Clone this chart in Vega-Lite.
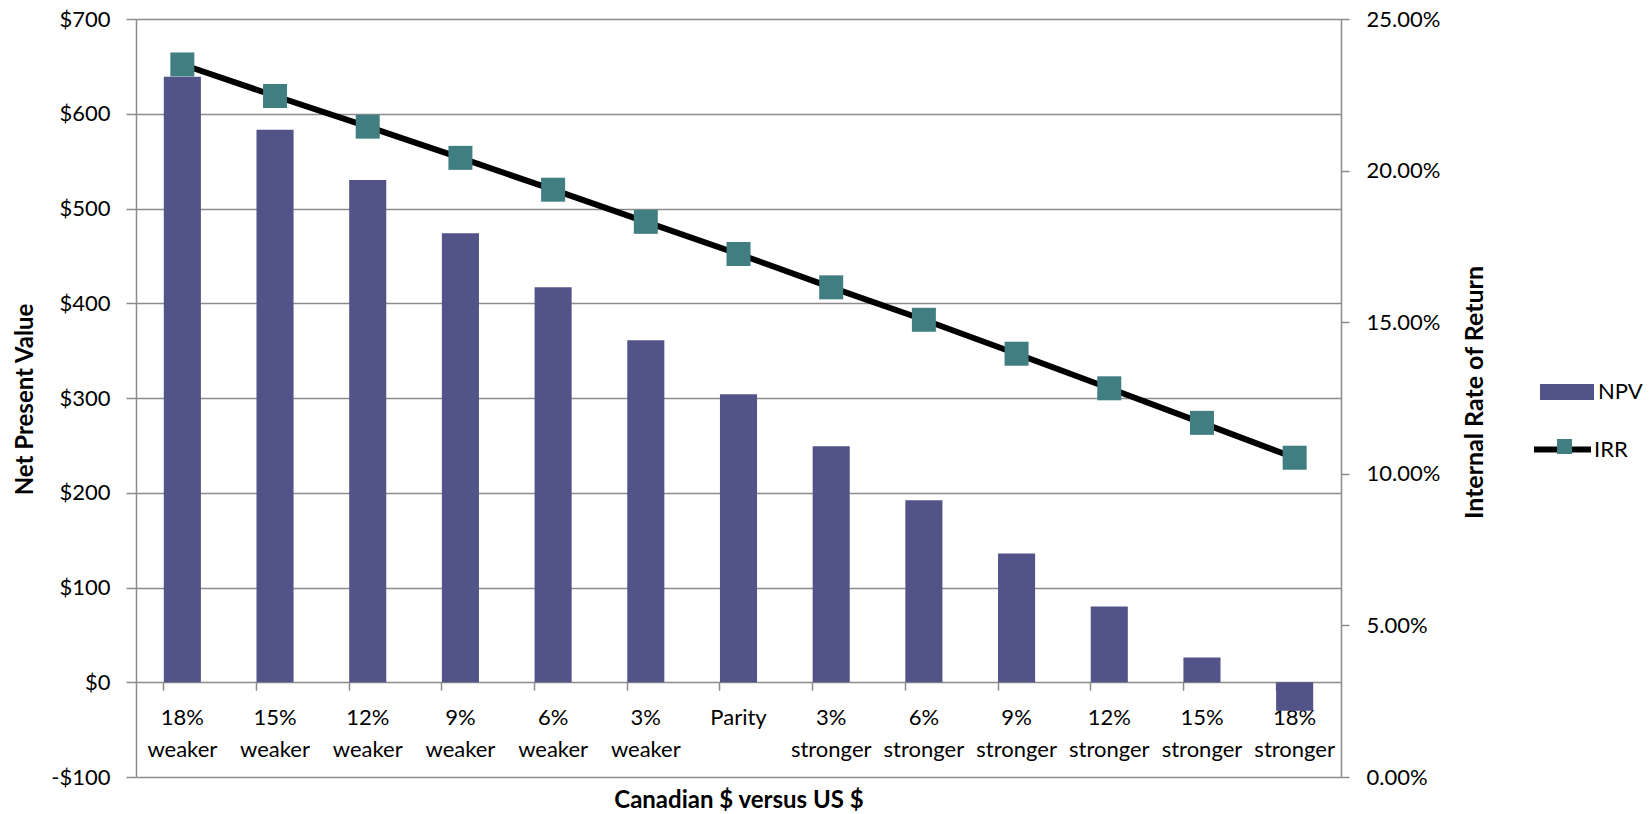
{
  "$schema": "https://vega.github.io/schema/vega-lite/v6.json",
  "width": 1205,
  "height": 758,
  "autosize": {"type": "none"},
  "padding": {"left": 136, "top": 19, "right": 311, "bottom": 37},
  "background": "white",
  "config": {
    "view": {"stroke": null},
    "font": "Lato",
    "axis": {"labelFont": "Lato", "titleFont": "Lato", "labelColor": "black", "titleColor": "black"},
    "legend": {"labelFont": "Lato", "labelFontSize": 22, "labelColor": "black", "padding": 0}
  },
  "data": {
    "values": [
      {"cat": "18% weaker", "npv": 639, "irr": 23.5},
      {"cat": "15% weaker", "npv": 583, "irr": 22.46},
      {"cat": "12% weaker", "npv": 530, "irr": 21.45},
      {"cat": "9% weaker", "npv": 474, "irr": 20.42},
      {"cat": "6% weaker", "npv": 417, "irr": 19.37},
      {"cat": "3% weaker", "npv": 361, "irr": 18.31},
      {"cat": "Parity", "npv": 304, "irr": 17.25},
      {"cat": "3% stronger", "npv": 249, "irr": 16.15},
      {"cat": "6% stronger", "npv": 192, "irr": 15.08},
      {"cat": "9% stronger", "npv": 136, "irr": 13.96},
      {"cat": "12% stronger", "npv": 80, "irr": 12.82},
      {"cat": "15% stronger", "npv": 26, "irr": 11.68},
      {"cat": "18% stronger", "npv": -30, "irr": 10.53}
    ]
  },
  "layer": [
    {
      "mark": {"type": "bar", "color": "#525388"},
      "encoding": {
        "x": {
          "field": "cat", "type": "nominal", "sort": null,
          "scale": {"paddingInner": 0.6, "paddingOuter": 0.3},
          "axis": {
            "orient": "bottom", "offset": -94.75, "bandPosition": 0,
            "labels": false, "domain": false, "grid": false,
            "ticks": true, "tickSize": 8, "tickColor": "#8c8c8c", "tickWidth": 1.5,
            "title": null
          }
        },
        "y": {
          "field": "npv", "type": "quantitative",
          "scale": {"domain": [-100, 700], "nice": false, "zero": false},
          "axis": {
            "orient": "left",
            "values": [-100, 0, 100, 200, 300, 400, 500, 600, 700],
            "labelExpr": "datum.value < 0 ? '-$' + abs(datum.value) : '$' + datum.value",
            "grid": true, "gridColor": "#8c8c8c", "gridWidth": 1.5,
            "domain": true, "domainColor": "#8c8c8c", "domainWidth": 1.5,
            "ticks": true, "tickColor": "#8c8c8c", "tickSize": 10, "tickWidth": 1.5,
            "labelFontSize": 22, "labelPadding": 16,
            "title": "Net Present Value", "titleFontSize": 24, "titleFontWeight": "bold",
            "titleAngle": -90, "titleX": -111, "titleY": 380,
            "titleAlign": "center", "titleBaseline": "middle"
          }
        },
        "color": {
          "datum": "NPV",
          "scale": {"domain": ["NPV"], "range": ["#525388"]},
          "legend": {
            "orient": "none", "legendX": 1404, "legendY": 346, "title": null,
            "symbolType": "M-1,-0.296H1V0.296H-1Z", "symbolSize": 2916,
            "symbolStrokeWidth": 0, "labelOffset": 4
          }
        }
      }
    },
    {
      "encoding": {
        "x": {
          "field": "cat", "type": "nominal", "sort": null,
          "axis": {
            "orient": "bottom", "offset": -94.75,
            "ticks": false, "tickSize": 0, "domain": false, "grid": false,
            "labelAngle": 0, "labelOverlap": false, "labelBound": false,
            "labelExpr": "datum.value == 'Parity' ? 'Parity' : split(datum.value, ' ')",
            "labelFontSize": 22, "labelLineHeight": 32, "labelPadding": 25,
            "labelBaseline": "top",
            "title": "Canadian $ versus US $", "titleFontSize": 24, "titleFontWeight": "bold",
            "titleY": 125.5, "titleBaseline": "alphabetic"
          }
        },
        "y": {
          "field": "irr", "type": "quantitative",
          "scale": {"domain": [0, 25], "nice": false, "zero": false}
        }
      },
      "layer": [
        {
          "mark": {"type": "line", "color": "black", "strokeWidth": 6},
          "encoding": {
            "y": {
              "field": "irr", "type": "quantitative",
              "axis": {
                "orient": "right",
                "values": [0, 5, 10, 15, 20, 25],
                "labelExpr": "format(datum.value, '.2f') + '%'",
                "grid": false,
                "domain": true, "domainColor": "#8c8c8c", "domainWidth": 1.5,
                "ticks": true, "tickColor": "#8c8c8c", "tickSize": 8, "tickWidth": 1.5,
                "labelFontSize": 22, "labelPadding": 17,
                "title": "Internal Rate of Return", "titleFontSize": 25, "titleFontWeight": "bold",
                "titleAngle": -90, "titleX": 133, "titleY": 373,
                "titleAlign": "center", "titleBaseline": "middle"
              }
            },
            "stroke": {
              "datum": "IRR",
              "scale": {"domain": ["IRR"], "range": ["black"]},
              "legend": {
                "orient": "none", "legendX": 1395, "legendY": 399, "title": null,
                "symbolType": "stroke", "symbolSize": 3249, "symbolStrokeWidth": 6,
                "labelOffset": 0
              }
            }
          }
        },
        {
          "mark": {"type": "point", "shape": "square", "filled": true, "size": 576, "color": "#417E82", "opacity": 1},
          "encoding": {
            "shape": {
              "datum": "IRR marker",
              "scale": {"domain": ["IRR marker"], "range": ["square"]},
              "legend": {
                "orient": "none", "legendX": 1421, "legendY": 420, "title": null,
                "symbolSize": 225, "symbolFillColor": "#417E82", "symbolStrokeWidth": 0,
                "symbolOpacity": 1, "labelExpr": "''", "labelFontSize": 1
              }
            }
          }
        }
      ]
    }
  ],
  "resolve": {"scale": {"y": "independent"}, "axis": {"x": "independent"}}
}
